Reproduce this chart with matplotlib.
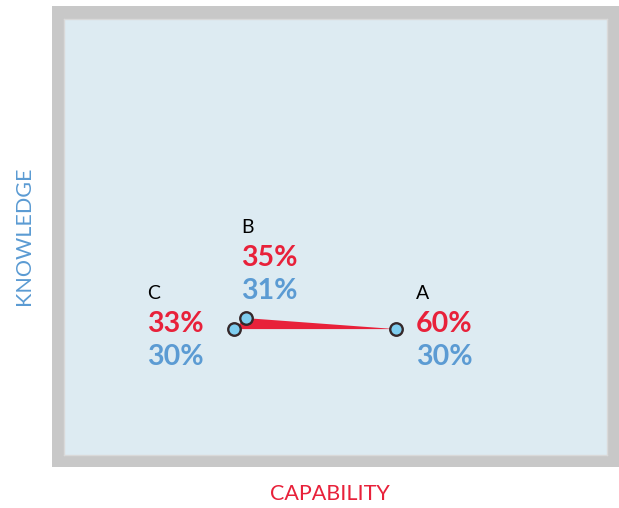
import matplotlib.pyplot as plt
from matplotlib.patches import Rectangle

# Data
names = ["A", "B", "C"]
capability = [60, 35, 33]   # red, x
knowledge = [30, 31, 30]    # blue, y

# label offsets in pixels (dx, dy for the letter line)
label_dx = [20, -5, -87]
label_dy = [30, 85, 30]

RED = "#e8213a"
BLUE = "#5b9bd3"

plt.rcParams['font.family'] = ['Lato', 'DejaVu Sans']

W, H = 619, 508
fig = plt.figure(figsize=(W / 100, H / 100), dpi=100)

# gray frame
fig.patches.append(Rectangle((52 / W, 1 - 467 / H), (W - 52) / W, (467 - 6) / H,
                             transform=fig.transFigure, facecolor="#c8c8c8",
                             edgecolor="none", zorder=-5))

ax = fig.add_axes([64 / W, 1 - 455 / H, (607 - 64) / W, (455 - 19) / H])
ax.set_zorder(1)
ax.set_facecolor("#ddebf2")
for s in ax.spines.values():
    s.set_color("#d9d9d9")
    s.set_linewidth(1)
ax.set_xticks([])
ax.set_yticks([])
ax.set_xlim(4.7, 95.2)
ax.set_ylim(18.55, 58.2)

# red triangle between points
ax.fill(capability, knowledge, color=RED, zorder=2, linewidth=0)
ax.plot(capability, knowledge, linestyle="none", marker="o", markersize=9,
        markerfacecolor="#7fcdef", markeredgecolor="#35282a",
        markeredgewidth=1.7, zorder=3)

for n, cx, ky, dx, dy in zip(names, capability, knowledge, label_dx, label_dy):
    ax.annotate(n, (cx, ky), xytext=(dx, dy), textcoords="offset pixels",
                ha="left", va="baseline", fontsize=14, color="black")
    ax.annotate(f"{cx}%", (cx, ky), xytext=(dx, dy - 33), textcoords="offset pixels",
                ha="left", va="baseline", fontsize=20.5, fontweight="bold", color=RED)
    ax.annotate(f"{ky}%", (cx, ky), xytext=(dx, dy - 66), textcoords="offset pixels",
                ha="left", va="baseline", fontsize=20.5, fontweight="bold", color=BLUE)

fig.text(330 / W, 1 - 494 / H, "CAPABILITY", ha="center", va="center",
         fontsize=15.5, color=RED)
fig.text(24 / W, 1 - 236 / H, "KNOWLEDGE", ha="center", va="center",
         rotation=90, fontsize=15.5, color=BLUE)

fig.savefig("out.png", dpi=100)
